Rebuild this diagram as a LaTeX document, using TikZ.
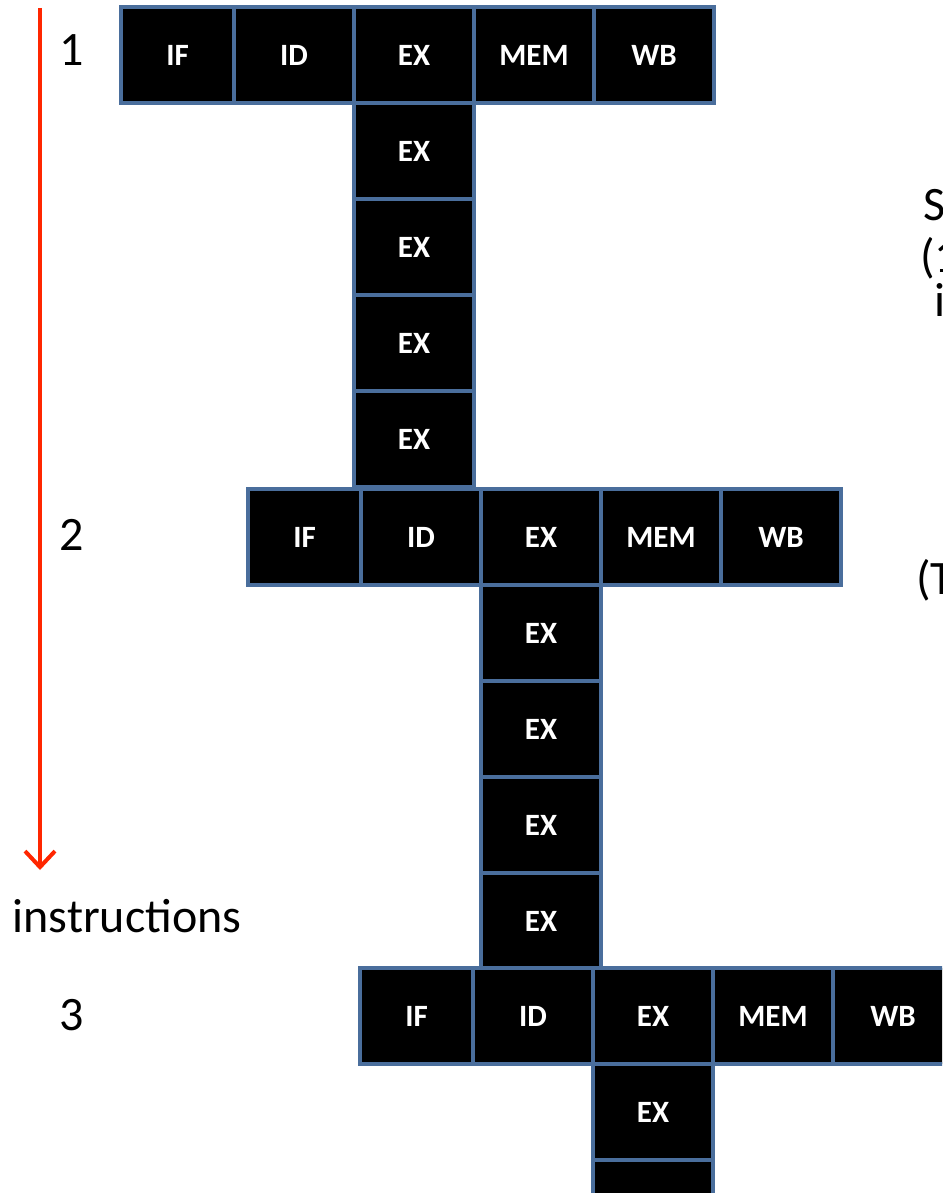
\documentclass[tikz,border=0pt]{standalone}
\usepackage{fontspec}
\setmainfont{Carlito}
\usetikzlibrary{positioning, arrows.meta}

\definecolor{pipeblue}{RGB}{74,110,156}
\definecolor{timered}{RGB}{255,38,0}

\begin{document}
\begin{tikzpicture}[
    x=1pt, y=-1pt,
    node distance=0pt,
    stage/.style={draw=pipeblue, fill=black, line width=4.5pt, inner sep=0pt, outer sep=0pt,
                  minimum width=120pt, minimum height=96pt, text=white,
                  font=\bfseries\fontsize{31}{36}\selectfont},
    ifstage/.style={stage, minimum width=113pt},
    bigtext/.style={font=\fontsize{48}{56}\selectfont, inner sep=0pt},
    timearrow/.style={-{Straight Barb[length=16pt, width=30pt]}, line width=4pt, draw=timered},
]
\clip (0,0) rectangle (942,1193);

% Instruction 1
\node[ifstage, anchor=north west] (ifA) at (121,7) {IF};
\node[stage, right=of ifA] (idA) {ID};
\node[stage, right=of idA] (exA) {EX};
\node[stage, right=of exA] (memA) {MEM};
\node[stage, right=of memA] (wbA) {WB};
\node[stage, below=of exA] (exAb) {EX};
\node[stage, below=of exAb] (exAc) {EX};
\node[stage, below=of exAc] (exAd) {EX};
\node[stage, below=of exAd] (exAe) {EX};

% Instruction 2
\node[ifstage, anchor=north west] (ifB) at (248,489) {IF};
\node[stage, right=of ifB] (idB) {ID};
\node[stage, right=of idB] (exB) {EX};
\node[stage, right=of exB] (memB) {MEM};
\node[stage, right=of memB] (wbB) {WB};
\node[stage, below=of exB] (exBb) {EX};
\node[stage, below=of exBb] (exBc) {EX};
\node[stage, below=of exBc] (exBd) {EX};
\node[stage, below=of exBd] (exBe) {EX};

% Instruction 3
\node[ifstage, anchor=north west] (ifC) at (360,968) {IF};
\node[stage, right=of ifC] (idC) {ID};
\node[stage, right=of idC] (exC) {EX};
\node[stage, right=of exC] (memC) {MEM};
\node[stage, right=of memC] (wbC) {WB};
\node[stage, below=of exC] (exCb) {EX};
\node[stage, below=of exCb] (exCc) {};

% Instruction numbers and time axis
\node[bigtext] (numA) at (72,50) {1};
\node[bigtext] (numB) at (72,535) {2};
\node[bigtext] (numC) at (72,1015) {3};
\node[bigtext] (instr) at (127,916) {instructions};

\coordinate (axistop) at (40,8);
\coordinate (axisend) at (40,870);
\draw[timearrow] (axistop) -- (axisend);

% Side notes
\node[bigtext, anchor=base west] (noteA) at (923,220) {S};
\node[bigtext, anchor=base west] (noteB) at (920,272) {(1};
\node[bigtext, anchor=base west] (noteC) at (934,316) {i};
\node[bigtext, anchor=base west] (noteD) at (916,594) {(T};
\end{tikzpicture}
\end{document}
